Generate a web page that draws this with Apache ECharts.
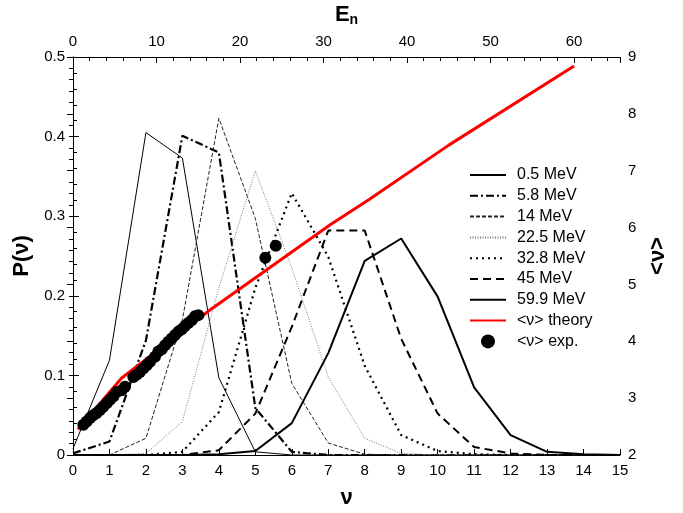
<!DOCTYPE html>
<html lang="en">
<head>
<meta charset="UTF-8">
<title>P(nu)</title>
<script src="https://cdn.jsdelivr.net/npm/echarts@6/dist/echarts.min.js"></script>
<style>
  html, body { margin: 0; padding: 0; background: #fff; }
  #main { width: 683px; height: 513px; }
</style>
</head>
<body>
<div id="main"></div>
<script>
// multiplicity distributions P(nu), nu = 0..15
var nu = [0,1,2,3,4,5,6,7,8,9,10,11,12,13,14,15];
var p05  = [0.008,0.119,0.405,0.373,0.097,0.004,0,0,0,0,0,0,0,0,0,0];
var p58  = [0.002,0.017,0.144,0.401,0.380,0.059,0.004,0,0,0,0,0,0,0,0,0];
var p14  = [0,0,0.021,0.170,0.423,0.297,0.090,0.015,0.001,0,0,0,0,0,0,0];
var p225 = [0,0,0.002,0.042,0.210,0.357,0.235,0.098,0.021,0.002,0,0,0,0,0,0];
var p328 = [0,0,0,0.004,0.054,0.210,0.329,0.249,0.112,0.025,0.005,0.001,0,0,0,0];
var p45  = [0,0,0,0,0.006,0.052,0.161,0.282,0.282,0.146,0.052,0.010,0.002,0,0,0];
var p599 = [0,0,0,0,0.001,0.005,0.040,0.128,0.244,0.272,0.199,0.085,0.025,0.004,0.001,0];

// <nu> vs En (top / right axes)
var theoryE  = [0.6, 5.8, 16.4, 30.8, 35.5, 45, 60];
var theoryNu = [2.45, 3.35, 4.55, 6.05, 6.5, 7.45, 8.84];
var expE  = [1.24,1.64,2.04,2.43,2.83,3.23,3.63,4.03,4.43,4.83,5.23,5.83,6.23,7.22,7.62,8.02,8.42,8.82,
             9.22,9.82,10.22,10.62,11.02,11.42,11.82,12.22,12.62,13.02,13.41,13.81,14.21,14.61,15.01,23.03,24.28];
var expNu = [2.53,2.59,2.65,2.70,2.74,2.79,2.85,2.91,2.97,3.03,3.11,3.14,3.20,3.37,3.41,3.46,3.52,3.58,
             3.64,3.73,3.82,3.86,3.93,3.99,4.05,4.11,4.17,4.21,4.27,4.32,4.37,4.44,4.46,5.47,5.68];

function pairs(xs, ys) {
  return xs.map(function (x, i) { return [x, ys[i]]; });
}

var font = 'Liberation Sans';
var black = '#000';

function pLine(name, data, color, width, type) {
  return {
    name: name, type: 'line', data: pairs(nu, data),
    xAxisIndex: 0, yAxisIndex: 0, symbol: 'none', animation: false,
    lineStyle: { color: color, width: width, type: type },
    itemStyle: { color: color }
  };
}

var tickCommon = {
  axisLine: { show: true, lineStyle: { color: black, width: 1 } },
  axisTick: { show: true, inside: true, length: 6, lineStyle: { color: black } },
  splitLine: { show: false },
  axisLabel: { color: black, fontFamily: font, fontSize: 15, margin: 8 }
};

function ax(extra) {
  return Object.assign({}, JSON.parse(JSON.stringify(tickCommon)), extra);
}

var nameStyle = { fontFamily: font, fontSize: 22, fontWeight: 'bold', color: black };
var legendNames = ['0.5 MeV','5.8 MeV','14 MeV','22.5 MeV','32.8 MeV','45 MeV','59.9 MeV','<ν> theory'];

var myChart = echarts.init(document.getElementById('main'));
var option = {
  backgroundColor: '#fff',
  animation: false,
  grid: { left: 73, right: 63, top: 57, bottom: 58, outerBoundsMode: 'none', containLabel: false },
  legend: {
    orient: 'vertical', left: 464, top: 162,
    itemWidth: 36, itemHeight: 14, itemGap: 4.8,
    itemStyle: { opacity: 0 },
    textStyle: { fontFamily: font, fontSize: 16, color: black, padding: [0, 0, 0, 6] },
    data: legendNames.concat([{ name: '<ν> exp.', icon: 'circle', itemStyle: { opacity: 1, color: black } }])
  },
  xAxis: [
    ax({ type: 'value', position: 'bottom', min: 0, max: 15, interval: 1,
         name: 'ν', nameLocation: 'middle', nameGap: 32, nameTextStyle: nameStyle }),
    ax({ type: 'value', position: 'top', min: 0, max: 65.5, interval: 10,
         minorTick: { show: true, splitNumber: 5, length: 4, lineStyle: { color: black } },
         axisLabel: { color: black, fontFamily: font, fontSize: 15, margin: 8, showMaxLabel: false },
         name: 'E{s|n}', nameLocation: 'middle', nameGap: 30,
         nameTextStyle: { fontFamily: font, fontSize: 22, fontWeight: 'bold', color: black,
           rich: { s: { fontFamily: font, fontSize: 14, fontWeight: 'bold', verticalAlign: 'bottom', padding: [10, 0, 0, 0] } } } })
  ],
  yAxis: [
    ax({ type: 'value', position: 'left', min: 0, max: 0.5, interval: 0.1,
         minorTick: { show: true, splitNumber: 5, length: 4, lineStyle: { color: black } },
         name: 'P(ν)', nameLocation: 'middle', nameGap: 31, nameTextStyle: nameStyle }),
    ax({ type: 'value', position: 'right', min: 2, max: 9, interval: 1,
         minorTick: { show: true, splitNumber: 5, length: 4, lineStyle: { color: black } },
         name: '<ν>', nameLocation: 'middle', nameGap: 21, nameRotate: 90, nameTextStyle: nameStyle })
  ],
  series: [
    pLine('0.5 MeV', p05, black, 1, 'solid'),
    pLine('5.8 MeV', p58, black, 2.2, [8, 3, 2, 3]),
    pLine('14 MeV', p14, '#222', 1, [4, 2]),
    pLine('22.5 MeV', p225, '#777', 1, [1, 1.5]),
    pLine('32.8 MeV', p328, black, 2.2, [2, 4]),
    pLine('45 MeV', p45, black, 2, [8, 5]),
    pLine('59.9 MeV', p599, black, 2, 'solid'),
    {
      name: '<ν> theory', type: 'line', data: pairs(theoryE, theoryNu),
      xAxisIndex: 1, yAxisIndex: 1, symbol: 'none', z: 3,
      lineStyle: { color: '#ff0000', width: 3 }, itemStyle: { color: '#ff0000' }
    },
    {
      name: '<ν> exp.', type: 'scatter', data: pairs(expE, expNu),
      xAxisIndex: 1, yAxisIndex: 1, symbol: 'circle', symbolSize: 12, z: 4,
      itemStyle: { color: black, opacity: 1 }
    }
  ]
};
myChart.setOption(option);
</script>
</body>
</html>
